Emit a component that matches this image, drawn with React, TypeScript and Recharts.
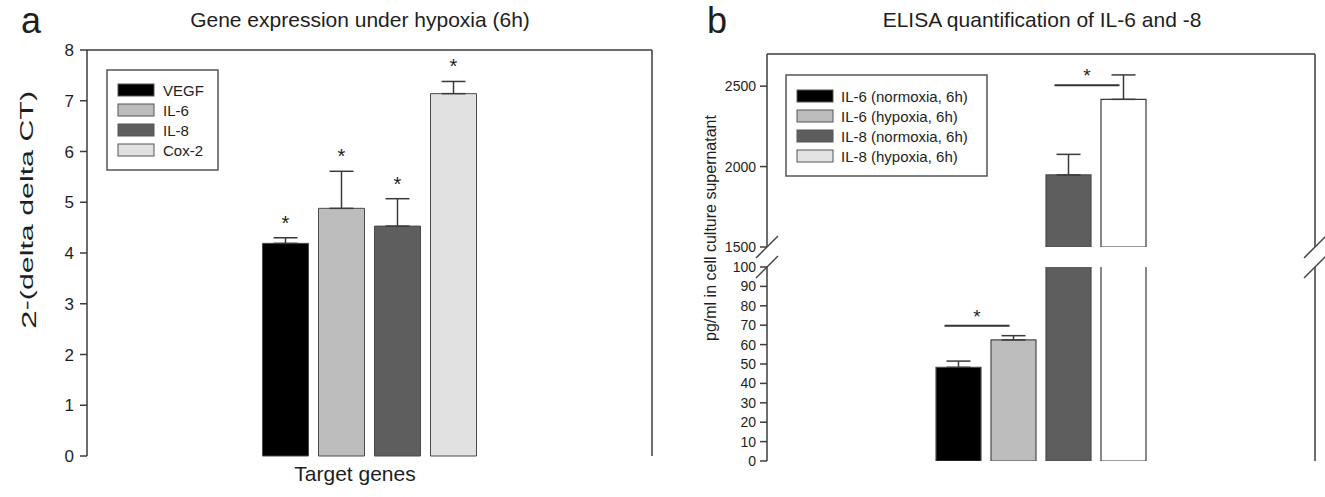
import React from 'react';
import {
  ComposedChart,
  Bar,
  XAxis,
  YAxis,
  ErrorBar,
  Cell,
  Scatter,
  ReferenceLine,
} from 'recharts';

const FONT = 'Arial, "Liberation Sans", Helvetica, sans-serif';
const AXIS = '#3c3c3c';
const TEXT = '#1e1e1e';

// ---------- Panel a: gene expression ----------
const geneNames = ['VEGF', 'IL-6', 'IL-8', 'Cox-2'];
const geneMeans = [4.19, 4.88, 4.53, 7.14];
const geneErrors = [0.11, 0.73, 0.54, 0.24];
const geneColors = ['#000000', '#bdbdbd', '#5e5e5e', '#e1e1e1'];
const geneSignificant = [true, true, true, true];
const geneTicks = [0, 1, 2, 3, 4, 5, 6, 7, 8];
const geneDomain = [0, 8];

// ---------- Panel b: ELISA ----------
const elisaNames = [
  'IL-6 (normoxia, 6h)',
  'IL-6 (hypoxia, 6h)',
  'IL-8 (normoxia, 6h)',
  'IL-8 (hypoxia, 6h)',
];
const elisaMeans = [48.3, 62.4, 1948, 2418];
const elisaErrors = [3.2, 2.2, 128, 152];
const elisaBarColors = ['#000000', '#bdbdbd', '#5e5e5e', '#ffffff'];
const elisaLegendColors = ['#000000', '#bdbdbd', '#5e5e5e', '#e3e3e3'];
const lowerTicks = [0, 10, 20, 30, 40, 50, 60, 70, 80, 90, 100];
const upperTicks = [1500, 2000, 2500];
const lowerDomain = [0, 100];
const upperDomain = [1500, 2700];
// significance brackets: pair of groups and level (data units)
const sigLower = { from: 0, to: 1, level: 69.7 };
const sigUpper = { from: 2, to: 3, level: 2506 };

// ---------- layout (plot frames) ----------
const FRAME_A = { left: 87, right: 652, top: 50, bottom: 456 };
const FRAME_B = { left: 767, right: 1315, top: 54, breakTop: 247, breakBottom: 267, bottom: 461 };

const geneData = geneNames.map((name, i) => ({
  name,
  value: geneMeans[i],
  err: [0, geneErrors[i]],
  top: geneSignificant[i] ? geneMeans[i] + geneErrors[i] : null,
}));

const elisaData = elisaNames.map((name, i) => ({
  name,
  value: elisaMeans[i],
  upper: elisaMeans[i] >= upperDomain[0] ? elisaMeans[i] : null,
  err: [0, elisaErrors[i]],
}));

const StarMark = (props: any) => {
  if (props.cx == null || props.cy == null) return null;
  return (
    <text x={props.cx} y={props.cy - 8} textAnchor="middle" fontSize={20} fill={TEXT} fontFamily={FONT}>
      *
    </text>
  );
};

const SigBracket = (props: any) => {
  const x1 = props.x1 - 14;
  const x2 = props.x2 - 4;
  const y = props.y1;
  return (
    <g>
      <line x1={x1} y1={y} x2={x2} y2={y} stroke="#333" strokeWidth={2} />
      <text x={(x1 + x2) / 2} y={y - 3} textAnchor="middle" fontSize={19} fill={TEXT} fontFamily={FONT}>
        *
      </text>
    </g>
  );
};

const axisLine = { stroke: AXIS, strokeWidth: 1.5 };
const tickLine = { stroke: AXIS, strokeWidth: 1.5 };

function PanelA() {
  const W = 660;
  const H = 497;
  return (
    <div style={{ position: 'absolute', left: 0, top: 0 }}>
      <ComposedChart width={W} height={H} data={geneData}
        margin={{ top: FRAME_A.top, right: W - FRAME_A.right, bottom: H - FRAME_A.bottom, left: FRAME_A.left - 50 }}>
        <XAxis dataKey="name" type="category" height={0} tick={false} tickLine={false} axisLine={axisLine}
          padding={{ left: 170.5, right: 170.5 }} />
        <YAxis width={50} domain={geneDomain} ticks={geneTicks} tickSize={7} tickMargin={6} axisLine={axisLine}
          tickLine={tickLine} tick={{ fontSize: 17, fill: TEXT }} interval={0} />
        <Bar dataKey="value" barSize={46} isAnimationActive={false} stroke="#4a4a4a" strokeWidth={1}>
          {geneData.map((d, i) => (
            <Cell key={d.name} fill={geneColors[i]} />
          ))}
          <ErrorBar dataKey="err" width={12} stroke="#3a3a3a" strokeWidth={1.5} direction="y" />
        </Bar>
        <Scatter dataKey="top" shape={StarMark} isAnimationActive={false} />
      </ComposedChart>
    </div>
  );
}

function PanelBUpper() {
  const L = 700;
  const W = 625;
  const H = 262;
  return (
    <div style={{ position: 'absolute', left: L, top: 0 }}>
      <ComposedChart width={W} height={H} data={elisaData}
        margin={{ top: FRAME_B.top, right: L + W - FRAME_B.right, bottom: H - FRAME_B.breakTop, left: FRAME_B.left - L - 50 }}>
        <XAxis dataKey="name" type="category" height={0} tick={false} tickLine={false} axisLine={false}
          padding={{ left: 164, right: 164 }} />
        <YAxis width={50} domain={upperDomain} ticks={upperTicks} allowDataOverflow tickSize={7} tickMargin={4}
          axisLine={axisLine} tickLine={tickLine} tick={{ fontSize: 14, fill: TEXT }} interval={0} />
        <Bar dataKey="upper" barSize={45} isAnimationActive={false} strokeWidth={1.2}>
          {elisaData.map((d, i) => (
            <Cell key={d.name} fill={elisaBarColors[i]} stroke={i === 3 ? '#3a3a3a' : '#4a4a4a'} />
          ))}
          <ErrorBar dataKey="err" width={12} stroke="#3a3a3a" strokeWidth={1.5} direction="y" />
        </Bar>
        <ReferenceLine
          segment={[
            { x: elisaNames[sigUpper.from], y: sigUpper.level },
            { x: elisaNames[sigUpper.to], y: sigUpper.level },
          ]}
          shape={SigBracket}
        />
      </ComposedChart>
    </div>
  );
}

function PanelBLower() {
  const L = 700;
  const T = 250;
  const W = 625;
  const H = 247;
  return (
    <div style={{ position: 'absolute', left: L, top: T }}>
      <ComposedChart width={W} height={H} data={elisaData}
        margin={{ top: FRAME_B.breakBottom - T, right: L + W - FRAME_B.right, bottom: T + H - FRAME_B.bottom, left: FRAME_B.left - L - 50 }}>
        <XAxis dataKey="name" type="category" height={0} tick={false} tickLine={false} axisLine={axisLine}
          padding={{ left: 164, right: 164 }} />
        <YAxis width={50} domain={lowerDomain} ticks={lowerTicks} allowDataOverflow tickSize={7} tickMargin={4}
          axisLine={axisLine} tickLine={tickLine} tick={{ fontSize: 14, fill: TEXT }} interval={0} />
        <Bar dataKey="value" barSize={45} isAnimationActive={false} strokeWidth={1.2}>
          {elisaData.map((d, i) => (
            <Cell key={d.name} fill={elisaBarColors[i]} stroke={i === 3 ? '#3a3a3a' : '#4a4a4a'} />
          ))}
          <ErrorBar dataKey="err" width={12} stroke="#3a3a3a" strokeWidth={1.5} direction="y" />
        </Bar>
        <ReferenceLine
          segment={[
            { x: elisaNames[sigLower.from], y: sigLower.level },
            { x: elisaNames[sigLower.to], y: sigLower.level },
          ]}
          shape={SigBracket}
        />
      </ComposedChart>
    </div>
  );
}

function Overlay() {
  const breakXs = [FRAME_B.left, FRAME_B.right];
  const breakYs = [FRAME_B.breakTop, FRAME_B.breakBottom];
  const frame = { stroke: AXIS, strokeWidth: 1.5 };
  return (
    <svg width={1325} height={497} style={{ position: 'absolute', left: 0, top: 0, pointerEvents: 'none' }}
      fontFamily={FONT}>
      {/* frame lines (top / right borders) */}
      <line x1={FRAME_A.left} y1={FRAME_A.top} x2={FRAME_A.right} y2={FRAME_A.top} {...frame} />
      <line x1={FRAME_A.right} y1={FRAME_A.top} x2={FRAME_A.right} y2={FRAME_A.bottom} {...frame} />
      <line x1={FRAME_B.left} y1={FRAME_B.top} x2={FRAME_B.right} y2={FRAME_B.top} {...frame} />
      <line x1={FRAME_B.right} y1={FRAME_B.top} x2={FRAME_B.right} y2={FRAME_B.breakTop} {...frame} />
      <line x1={FRAME_B.right} y1={FRAME_B.breakBottom} x2={FRAME_B.right} y2={FRAME_B.bottom} {...frame} />

      {/* panel letters & titles */}
      <text x={21} y={33} fontSize={36} fill={TEXT}>a</text>
      <text x={360} y={27} fontSize={21} fill={TEXT} textAnchor="middle">Gene expression under hypoxia (6h)</text>
      <text x={707} y={33} fontSize={36} fill={TEXT}>b</text>
      <text x={1042} y={27} fontSize={21} fill={TEXT} textAnchor="middle">ELISA quantification of IL-6 and -8</text>

      {/* axis titles */}
      <text x={355} y={481} fontSize={21} fill={TEXT} textAnchor="middle">Target genes</text>
      <text transform="translate(36,210) rotate(-90)" fontSize={21} fill={TEXT} textAnchor="middle"
        textLength={238} lengthAdjust="spacingAndGlyphs">
        2<tspan dy={-3} fontSize={19}>-(delta delta CT)</tspan>
      </text>
      <text transform="translate(716,228) rotate(-90)" fontSize={16} fill={TEXT} textAnchor="middle">
        pg/ml in cell culture supernatant
      </text>

      {/* legend a */}
      <rect x={107} y={70} width={111} height={100} fill="#fff" stroke="#555" strokeWidth={1.5} />
      {geneNames.map((n, i) => (
        <g key={n}>
          <rect x={118} y={84 + 20 * i} width={36} height={12} fill={geneColors[i]} stroke="#555" strokeWidth={1} />
          <text x={163} y={95.5 + 20 * i} fontSize={15} fill={TEXT}>{n}</text>
        </g>
      ))}

      {/* legend b */}
      <rect x={786} y={75} width={201} height={101} fill="#fff" stroke="#555" strokeWidth={1.5} />
      {elisaNames.map((n, i) => (
        <g key={n}>
          <rect x={797} y={90 + 20 * i} width={36} height={12} fill={elisaLegendColors[i]} stroke="#555"
            strokeWidth={1} />
          <text x={841} y={101.5 + 20 * i} fontSize={15} fill={TEXT}>{n}</text>
        </g>
      ))}

      {/* axis break marks */}
      {breakXs.map((bx) =>
        breakYs.map((by) => (
          <line key={`${bx}-${by}`} x1={bx - 11} y1={by + 11} x2={bx + 11} y2={by - 11} stroke="#444"
            strokeWidth={1.5} />
        ))
      )}
    </svg>
  );
}

export default function App() {
  return (
    <div style={{ position: 'absolute', left: 0, top: 0, width: 1325, height: 497, background: '#fff', fontFamily: FONT }}>
      <PanelA />
      <PanelBUpper />
      <PanelBLower />
      <Overlay />
    </div>
  );
}
